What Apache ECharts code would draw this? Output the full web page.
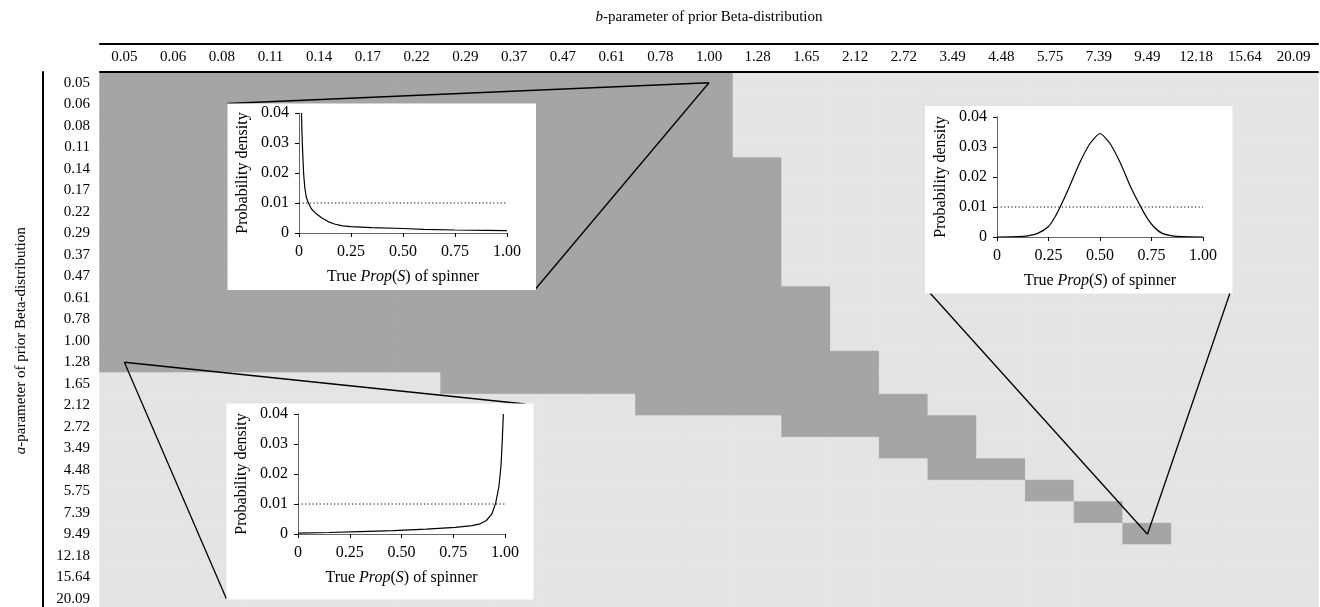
<!DOCTYPE html>
<html><head><meta charset="utf-8">
<script src="https://cdn.jsdelivr.net/npm/echarts@6/dist/echarts.min.js"></script>
<style>html,body{margin:0;padding:0;background:#fff}#c{width:1320px;height:607px}</style>
</head><body><div id="c"></div>
<script>
// ---------------- DATA ----------------
const bLabels = ['0.05','0.06','0.08','0.11','0.14','0.17','0.22','0.29','0.37','0.47','0.61','0.78','1.00','1.28','1.65','2.12','2.72','3.49','4.48','5.75','7.39','9.49','12.18','15.64','20.09'];
const aLabels = ['0.05','0.06','0.08','0.11','0.14','0.17','0.22','0.29','0.37','0.47','0.61','0.78','1.00','1.28','1.65','2.12','2.72','3.49','4.48','5.75','7.39','9.49','12.18','15.64','20.09'];
// For each b-column: first and last a-row index of the dark region (-1 = none)
const darkFirstRow = [0,0,0,0,0,0,0,0,0,0,0,0,0,4,10,13,15,16,18,19,20,21,-1,-1,-1];
const darkLastRow  = [13,13,13,13,13,13,13,14,14,14,14,15,15,15,16,16,17,18,18,19,20,21,-1,-1,-1];

// Inset curves: [True Prop(S), probability density]
const curveA005B100 = [[0.012,0.040],[0.014,0.034],[0.017,0.028],[0.022,0.020],[0.028,0.015],[0.035,0.012],[0.045,0.010],[0.06,0.0080],[0.08,0.0066],[0.11,0.0050],[0.14,0.0038],[0.17,0.0030],[0.21,0.0024],[0.25,0.0021],[0.35,0.0018],[0.50,0.0015],[0.60,0.0012],[0.75,0.0010],[0.90,0.0009],[1.00,0.0008]];
const curveA128B005 = [[0,0.0003],[0.15,0.0005],[0.30,0.0008],[0.46,0.0011],[0.62,0.0016],[0.76,0.0022],[0.84,0.0028],[0.88,0.0034],[0.91,0.0045],[0.936,0.0066],[0.955,0.0103],[0.971,0.016],[0.981,0.023],[0.987,0.0315],[0.992,0.040]];
const curveA949B949 = [[0,0],[0.10,0.0001],[0.15,0.0004],[0.20,0.0013],[0.25,0.0035],[0.28,0.0065],[0.31,0.0105],[0.35,0.0165],[0.40,0.0245],[0.45,0.031],[0.50,0.0345],[0.55,0.031],[0.60,0.0245],[0.65,0.0165],[0.70,0.0098],[0.73,0.0062],[0.76,0.0035],[0.80,0.0013],[0.85,0.0004],[0.90,0.0001],[1.00,0]];
const threshold = 0.01;
// which cell each inset points at: [b label, a label]
const insetTargets = [['1.00','0.05'],['0.05','1.28'],['9.49','9.49']];

// ---------------- LAYOUT / STYLE ----------------
const FONT = '"Liberation Serif","Times New Roman",serif';
const DARK = '#a5a5a5', LIGHT = '#e4e4e4';
const insets = [
  {curve: curveA005B100, box:[227.5,103.5,308.5,186.5], grid:{left:299,top:113,width:208,height:120},
   corners:[[227.5,103.5],[535.5,289]], smooth:false},
  {curve: curveA128B005, box:[226.5,403.5,307,196], grid:{left:298,top:414,width:207,height:120},
   corners:[[226.5,599],[525,404]], smooth:false},
  {curve: curveA949B949, box:[925,106,307.5,187.5], grid:{left:997,top:117,width:206,height:120},
   corners:[[930,293],[1230,293]], smooth:0.2}
];

const heatData = [];
for (let c = 0; c < bLabels.length; c++) {
  for (let r = 0; r < aLabels.length; r++) {
    const inside = darkFirstRow[c] >= 0 && r >= darkFirstRow[c] && r <= darkLastRow[c];
    const col = inside ? DARK : LIGHT;
    heatData.push({value:[c, r, inside ? 1 : 0], itemStyle:{color:col, borderColor:col, borderWidth:0.8}});
  }
}

const fmt = v => (Math.abs(v) < 1e-9 ? '0' : v.toFixed(2));

const grids = [{left:100, top:72, width:1218, height:537.5, outerBoundsMode:'none', containLabel:false}];
const xAxes = [
  {type:'category', data:bLabels, gridIndex:0, position:'top', z:8,
   axisLine:{show:true, lineStyle:{color:'#000', width:2}}, axisTick:{show:false},
   axisLabel:{interval:0, margin:7, fontSize:15, fontFamily:FONT, color:'#000'},
   splitLine:{show:false}, splitArea:{show:false}},
  {type:'category', data:bLabels, gridIndex:0, position:'top', offset:28.5, z:8,
   axisLine:{show:true, lineStyle:{color:'#000', width:2}}, axisTick:{show:false}, axisLabel:{show:false},
   name:'{i|b}-parameter of prior Beta-distribution', nameLocation:'middle', nameGap:19,
   nameTextStyle:{fontSize:15, fontFamily:FONT, color:'#000',
     rich:{i:{fontStyle:'italic', fontSize:15, fontFamily:FONT, color:'#000'}}}}
];
const yAxes = [
  {type:'category', data:aLabels, gridIndex:0, inverse:true, position:'left', z:8,
   axisLine:{show:false}, axisTick:{show:false},
   axisLabel:{interval:0, margin:10, fontSize:15, fontFamily:FONT, color:'#000'},
   splitLine:{show:false}, splitArea:{show:false}},
  {type:'category', data:aLabels, gridIndex:0, inverse:true, position:'left', offset:57, z:8,
   axisLine:{show:true, lineStyle:{color:'#000', width:2}}, axisTick:{show:false}, axisLabel:{show:false},
   name:'{i|a}-parameter of prior Beta-distribution', nameLocation:'middle', nameGap:14, nameRotate:90,
   nameTextStyle:{fontSize:15, fontFamily:FONT, color:'#000',
     rich:{i:{fontStyle:'italic', fontSize:15, fontFamily:FONT, color:'#000'}}}}
];
const series = [{
  type:'heatmap', xAxisIndex:0, yAxisIndex:0, data:heatData, z:2,
  emphasis:{disabled:true}, progressive:0
}];

insets.forEach((ins, i) => {
  const gi = i + 1;
  grids.push(Object.assign({outerBoundsMode:'none', containLabel:false}, ins.grid));
  xAxes.push({type:'value', gridIndex:gi, min:0, max:1, interval:0.25, z:10,
    axisLine:{show:true, onZero:false, lineStyle:{color:'#666', width:1}},
    axisTick:{show:true, length:4, lineStyle:{color:'#000'}},
    axisLabel:{formatter:fmt, margin:11, fontSize:16, fontFamily:FONT, color:'#000'},
    splitLine:{show:false},
    name:'True {i|Prop}({i|S}) of spinner', nameLocation:'middle', nameGap:36,
    nameTextStyle:{fontSize:16, fontFamily:FONT, color:'#000',
      rich:{i:{fontStyle:'italic', fontSize:16, fontFamily:FONT, color:'#000'}}}});
  yAxes.push({type:'value', gridIndex:gi, min:0, max:0.04, interval:0.01, z:10, position:'left',
    axisLine:{show:true, onZero:false, lineStyle:{color:'#666', width:1}},
    axisTick:{show:true, length:4, lineStyle:{color:'#000'}},
    axisLabel:{formatter:fmt, margin:10, fontSize:16, fontFamily:FONT, color:'#000'},
    splitLine:{show:false},
    name:'Probability density', nameLocation:'middle', nameGap:48, nameRotate:90,
    nameTextStyle:{fontSize:16, fontFamily:FONT, color:'#000'}});
  series.push({type:'line', xAxisIndex:gi+1, yAxisIndex:gi+1, z:12, data:[[0,threshold],[1,threshold]],
    showSymbol:false, silent:true, lineStyle:{color:'#000', width:1, type:[1.2,2.4]}});
  series.push({type:'line', xAxisIndex:gi+1, yAxisIndex:gi+1, z:13, data:ins.curve, smooth:ins.smooth,
    showSymbol:false, silent:true, clip:true, lineStyle:{color:'#000', width:1.2}});
});

const chart = echarts.init(document.getElementById('c'), null, {renderer:'canvas'});
chart.setOption({
  animation:false, backgroundColor:'#fff',
  grid:grids, xAxis:xAxes, yAxis:yAxes,
  series:series
});

// white inset boxes and connector lines pointing at the target cells
const elements = [];
insets.forEach((ins, i) => {
  const t = insetTargets[i];
  const p = chart.convertToPixel({seriesIndex:0}, [bLabels.indexOf(t[0]), aLabels.indexOf(t[1])]);
  ins.corners.forEach(cn => {
    elements.push({type:'line', z:6, silent:true,
      shape:{x1:p[0], y1:p[1], x2:cn[0], y2:cn[1]}, style:{stroke:'#000', lineWidth:1.3}});
  });
  elements.push({type:'rect', z:7, silent:true,
    shape:{x:ins.box[0], y:ins.box[1], width:ins.box[2], height:ins.box[3]}, style:{fill:'#fff'}});
});
chart.setOption({graphic:{elements:elements}});
</script>
</body></html>
